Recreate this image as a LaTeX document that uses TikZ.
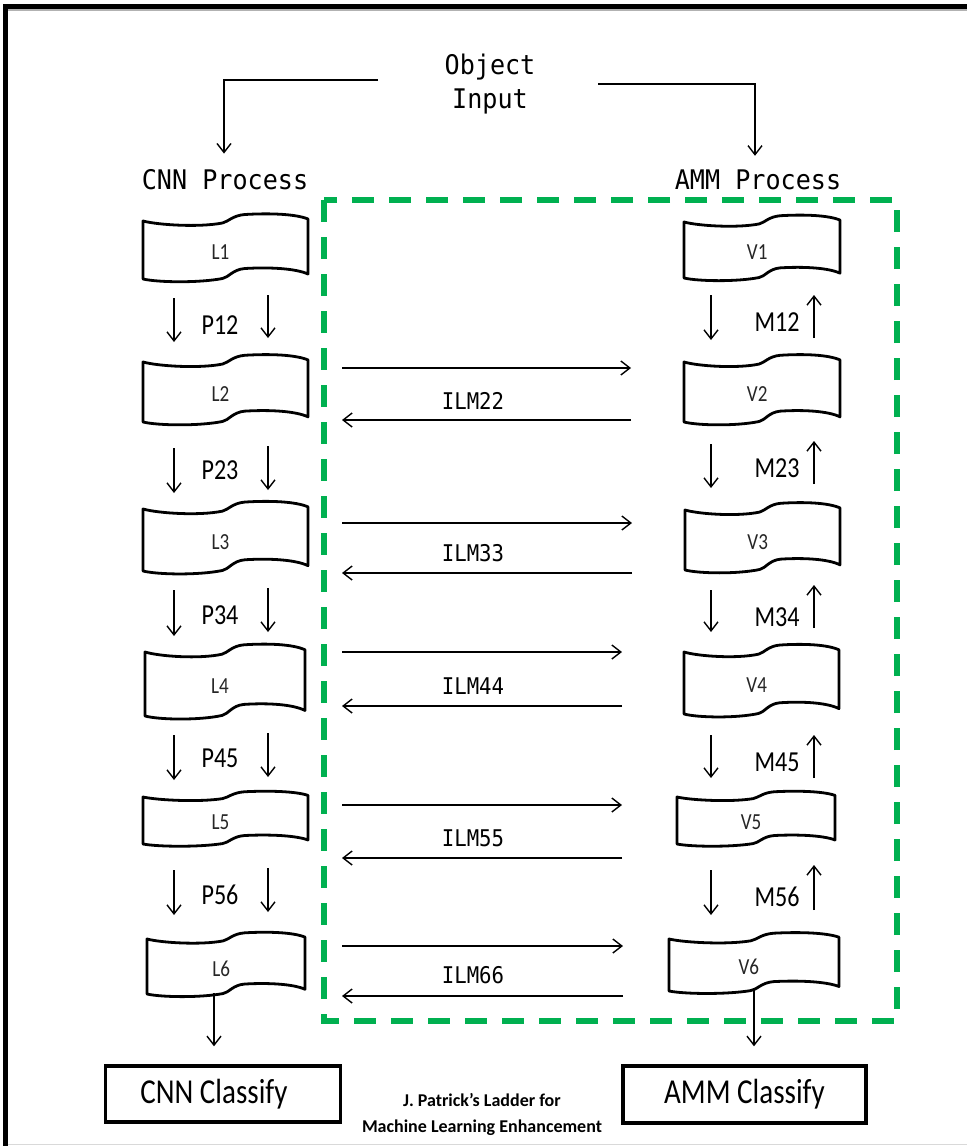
\documentclass[tikz,border=0pt]{standalone}
\usepackage{fontspec}
\usetikzlibrary{arrows.meta}
\newfontfamily\monof[FakeStretch=0.93]{DejaVu Sans Mono}
\newfontfamily\monoi[FakeStretch=0.9]{DejaVu Sans Mono}
\newfontfamily\calf[FakeStretch=0.83]{Carlito}
\newfontfamily\calplain{Carlito}
\definecolor{dgreen}{RGB}{0,176,80}
\newcommand\tapebox[6]{%
  \begin{scope}[shift={(#2,#3)}, xscale=#4/162, yscale=#5/58]
    \draw[tapeline] (0,0) .. controls (15,4) and (55,6.5) .. (78,2)
      .. controls (84,0.5) and (88,-5.5) .. (100,-6.5)
      .. controls (125,-8) and (150,-7) .. (162,-2)
      -- (162,53)
      .. controls (150,47.5) and (125,46) .. (100,47.5)
      .. controls (88,48.5) and (84,56.5) .. (78,57.5)
      .. controls (55,62) and (15,61.5) .. (0,58) -- cycle;
    \node[tapelabel] (#1) at (76,31) {#6};
  \end{scope}}
\begin{document}
\begin{tikzpicture}[x=1pt,y=-1pt,
  arr/.style={line width=1.4pt,-{Straight Barb[length=9pt,width=14pt]}},
  tapeline/.style={line width=2.8pt, line join=round},
  tapelabel/.style={font=\calf\fontsize{23}{23}\selectfont, text=black!85, inner sep=0pt},
  monolbl/.style={font=\monof\fontsize{27}{34}\selectfont, inner sep=0pt, align=center},
  ilmlbl/.style={font=\monoi\fontsize{23}{23}\selectfont, inner sep=0pt},
  steplbl/.style={font=\calf\fontsize{29}{29}\selectfont, inner sep=0pt},
  clsbox/.style={draw, line width=3.5pt, font=\calf\fontsize{35}{35}\selectfont, inner sep=0pt},
  caption/.style={font=\calplain\bfseries\fontsize{18}{26}\selectfont, align=center, inner sep=0pt},
  gdash/.style={draw=dgreen, line width=5.5pt, dash pattern=on 22pt off 15pt}
]
\useasboundingbox (0,0) rectangle (967,1146);
% frame
\draw[black!30, line width=1.5pt] (7,10) -- (967,10);
\draw[black!15, line width=1pt] (7,1144.5) -- (967,1144.5);
\draw[line width=5pt] (5,1146) -- (5,6.5) -- (967,6.5);

% green dashed region
\draw[gdash] (324,200) rectangle (897,1021);

% top text
\node[monolbl] (obj) at (490,84) {Object\\Input};
\node[monolbl] (cnnp) at (225,180) {CNN Process};
\node[monolbl] (ammp) at (758,180) {AMM Process};
\coordinate (inL) at (378,80);
\coordinate (inR) at (598,84);
\draw[arr, shorten >=16pt] (inL) -| (cnnp.north -| 224,0);
\draw[arr, shorten >=14pt] (inR) -| (ammp.north -| 755,0);

% tapes
\tapebox{L1}{143}{221}{165}{58}{L1}
\tapebox{L2}{143}{362}{165}{60}{L2}
\tapebox{L3}{143}{509}{165}{62}{L3}
\tapebox{L4}{145}{652}{160}{64}{L4}
\tapebox{L5}{143}{797}{165}{47}{L5}
\tapebox{L6}{147}{939}{158}{55}{L6}
\tapebox{V1}{684}{222}{156}{56}{V1}
\tapebox{V2}{684}{362}{156}{60}{V2}
\tapebox{V3}{685}{510}{155}{60}{V3}
\tapebox{V4}{684}{652}{155}{62}{V4}
\tapebox{V5}{677}{797}{158}{47}{V5}
\tapebox{V6}{669}{939}{170}{52}{V6}

% P steps (CNN side)
\foreach \n/\ly/\a/\b/\c/\d in {12/325/298/342/295/338, 23/470/448/493/446/490,
    34/615/590/636/588/632, 45/758/735/780/733/777, 56/895/870/915/868/912}{
  \node[steplbl] (P\n) at (220,\ly) {P\n};
  \coordinate (pa\n) at (174,\a); \coordinate (pb\n) at (174,\b);
  \coordinate (pc\n) at (268,\c); \coordinate (pd\n) at (268,\d);
  \draw[arr] (pa\n) -- (pb\n);
  \draw[arr] (pc\n) -- (pd\n);
}
% M steps (AMM side)
\foreach \n/\ly/\a/\b/\c/\d in {12/322/295/340/338/295, 23/468/444/488/484/441,
    34/617/590/632/628/585, 45/762/735/778/778/735, 56/897/870/915/910/865}{
  \node[steplbl] (M\n) at (777,\ly) {M\n};
  \coordinate (ma\n) at (711,\a); \coordinate (mb\n) at (711,\b);
  \coordinate (mc\n) at (814,\c); \coordinate (md\n) at (814,\d);
  \draw[arr] (ma\n) -- (mb\n);
  \draw[arr] (mc\n) -- (md\n);
}
% ILM links
\foreach \n/\r/\l/\e/\ly in {22/368/420/631/401, 33/523/573/632/553,
    44/652/706/622/686, 55/805/858/622/838, 66/946/996/623/975}{
  \coordinate (ia\n) at (342,\r); \coordinate (ib\n) at (\e,\r);
  \coordinate (ic\n) at (\e,\l); \coordinate (id\n) at (342,\l);
  \draw[arr] (ia\n) -- (ib\n);
  \draw[arr] (ic\n) -- (id\n);
  \node[ilmlbl] (ILM\n) at (473,\ly) {ILM\n};
}

% classify boxes
\node[clsbox, minimum width=235pt, minimum height=56pt] (cnnc) at (223,1094) {CNN Classify\hspace*{18pt}};
\node[clsbox, minimum width=243pt, minimum height=57pt] (ammc) at (744.5,1094.5) {AMM Classify};
\coordinate (L6out) at (214,993);
\coordinate (V6out) at (754,988);
\draw[arr, shorten >=18pt] (L6out) -- (L6out |- cnnc.north);
\draw[arr, shorten >=18pt] (V6out) -- (V6out |- ammc.north);

\node[caption] (cap) at (482,1114) {J. Patrick’s Ladder for\\Machine Learning Enhancement};
\end{tikzpicture}
\end{document}
